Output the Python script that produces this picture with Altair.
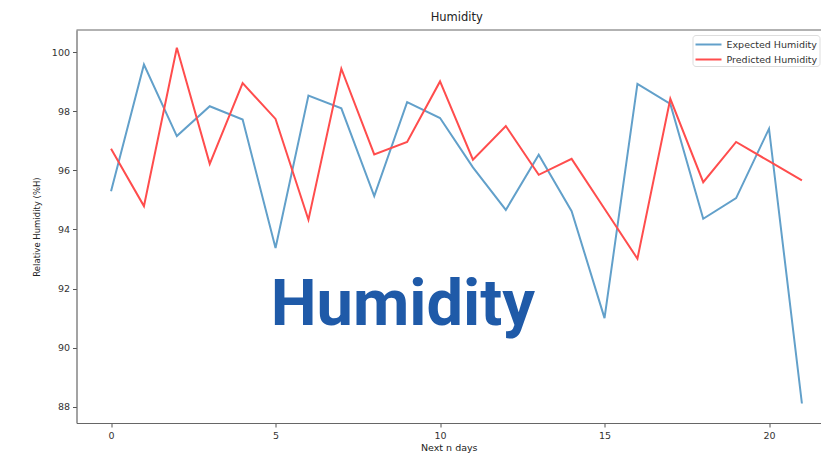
import altair as alt
import pandas as pd

days = list(range(22))
expected = [95.29, 99.58, 97.16, 98.17, 97.72, 93.37, 98.53, 98.10, 95.13, 98.31,
            97.77, 96.10, 94.66, 96.53, 94.62, 91.00, 98.93, 98.25, 94.36, 95.06,
            97.41, 88.11]
predicted = [96.73, 94.79, 100.15, 96.22, 98.95, 97.74, 94.33, 99.44, 96.54, 96.96,
             99.01, 96.36, 97.50, 95.85, 96.39, 94.70, 93.01, 98.42, 95.60, 96.96,
             96.31, 95.66]
series_names = ["Expected Humidity", "Predicted Humidity"]
series_colors = ["#62a0ca", "#ff4d4d"]
x_ticks = [0, 5, 10, 15, 20]
y_ticks = [88, 90, 92, 94, 96, 98, 100]

rows = []
for d, e, p in zip(days, expected, predicted):
    rows.append({"day": d, "value": e, "series": series_names[0]})
    rows.append({"day": d, "value": p, "series": series_names[1]})
df = pd.DataFrame(rows)

FONT = "DejaVu Sans"
SPINE = "#666"

# the reference is cropped on the right: the visible x range ends before the axes frame
x_scale = alt.Scale(domain=[-1.05, 21.58], nice=False, zero=False)
y_scale = alt.Scale(domain=[87.45, 100.75], nice=False, zero=False)

lines = alt.Chart(df).mark_line(strokeWidth=2, clip=True).encode(
    x=alt.X("day:Q", scale=x_scale,
            axis=alt.Axis(values=x_ticks, title="Next n days", grid=False,
                          domain=True, domainColor=SPINE, domainWidth=1.2,
                          tickSize=4, tickColor="#555",
                          labelFontSize=9.5, labelColor="#333", labelPadding=3,
                          labelFont=FONT, titleFont=FONT, titleFontSize=9.5,
                          titleFontWeight="normal", titleColor="#222",
                          titlePadding=3)),
    y=alt.Y("value:Q", scale=y_scale,
            axis=alt.Axis(values=y_ticks, title="Relative Humidity (%H)", grid=False,
                          domain=True, domainColor=SPINE, domainWidth=1.2,
                          tickSize=4, tickColor="#555",
                          labelFontSize=9.5, labelColor="#333", labelPadding=3,
                          labelFont=FONT, titleFont=FONT, titleFontSize=8.5,
                          titleFontWeight="normal", titleColor="#222",
                          titlePadding=10)),
    color=alt.Color("series:N",
                    scale=alt.Scale(domain=series_names, range=series_colors),
                    legend=alt.Legend(title=None, orient="none", legendX=616, legendY=5,
                                      symbolType="M-1,0H3", symbolStrokeWidth=2,
                                      symbolSize=169, labelFont=FONT, labelFontSize=9.5,
                                      labelColor="#333", labelOffset=17, padding=2,
                                      rowPadding=3,
                                      strokeColor="#ddd", fillColor="white",
                                      cornerRadius=3)),
)

top_spine = alt.Chart(pd.DataFrame({"k": [0]})).mark_rule(
    color=SPINE, strokeWidth=1.2).encode(y=alt.value(0))

wm = pd.DataFrame({"day": [8.87], "value": [90.75], "label": ["Humidity"]})
watermark = alt.Chart(wm).mark_text(
    font="Roboto", fontWeight="bold", fontSize=65, color="#1f5aa8",
    align="center", baseline="alphabetic"
).encode(x=alt.X("day:Q", scale=x_scale), y=alt.Y("value:Q", scale=y_scale),
         text="label:N")

chart = alt.layer(top_spine, lines, watermark).properties(
    width=744.5, height=393,
    padding={"left": 68.5, "top": 22, "right": 0, "bottom": 30},
    autosize=alt.AutoSizeParams(type="none"),
    title=alt.Title("Humidity", font=FONT, fontSize=11.5, fontWeight="normal",
                    color="#222", anchor="middle", frame="group", dx=8, offset=6),
).configure_view(stroke=None)

chart.save("out.html", embed_options={"renderer": "svg", "actions": False})
